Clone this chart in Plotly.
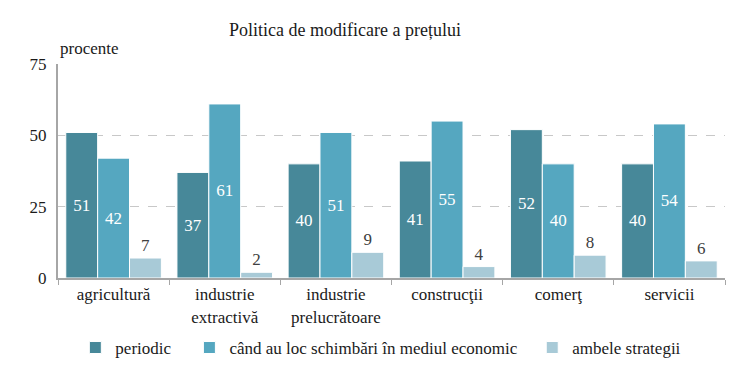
import plotly.graph_objects as go

categories = ["agricultură", "industrie<br>extractivă", "industrie<br>prelucrătoare", "construcţii", "comerţ", "servicii"]
periodic = [51, 37, 40, 41, 52, 40]
cand = [42, 61, 51, 55, 40, 54]
ambele = [7, 2, 9, 4, 8, 6]
series_names = ["periodic", "când au loc schimbări în mediul economic", "ambele strategii"]
y_ticks = [0, 25, 50, 75]

FONT = "Liberation Serif"
colors = ["#478899", "#55a7c0", "#a8cad7"]
TXT = "#1a1a1a"

fig = go.Figure()
fig.add_trace(go.Bar(x=categories, y=periodic, name=series_names[0], marker_color=colors[0],
                     marker_line=dict(color="white", width=1), showlegend=True,
                     text=periodic, textposition="inside", insidetextanchor="middle",
                     textfont=dict(color="white", size=17, family=FONT), legend="legend"))
fig.add_trace(go.Bar(x=categories, y=cand, name=series_names[1], marker_color=colors[1],
                     marker_line=dict(color="white", width=1), showlegend=True,
                     text=cand, textposition="inside", insidetextanchor="middle",
                     textfont=dict(color="white", size=17, family=FONT), legend="legend2"))
fig.add_trace(go.Bar(x=categories, y=ambele, name=series_names[2], marker_color=colors[2],
                     marker_line=dict(color="white", width=1), showlegend=True,
                     text=ambele, textposition="outside", cliponaxis=False,
                     textfont=dict(color="#404040", size=17, family=FONT), legend="legend3"))

# page has an 8px body margin: figure origin is at (8, 8)
leg_common = dict(orientation="h", yanchor="middle", y=-0.327, xanchor="left",
                  font=dict(family=FONT, size=17, color=TXT), bgcolor="rgba(0,0,0,0)",
                  itemwidth=30, visible=True)
fig.update_layout(
    width=739, height=366,
    margin=dict(l=50, r=22, t=56, b=96, autoexpand=False),
    showlegend=True,
    plot_bgcolor="white", paper_bgcolor="white",
    font=dict(family=FONT, size=17, color=TXT),
    barmode="group", bargap=0.14, bargroupgap=0,
    title=dict(text="Politica de modificare a prețului", x=0.456, xanchor="center", y=0.94, yanchor="middle",
               font=dict(family=FONT, size=18, color=TXT)),
    legend=dict(**leg_common, x=0.026),
    legend2=dict(**leg_common, x=0.197),
    legend3=dict(**leg_common, x=0.711),
    xaxis=dict(showline=True, linecolor="#a6a6a6", linewidth=2, ticks="outside", tickson="boundaries",
               ticklen=5, tickcolor="#a6a6a6", tickfont=dict(family=FONT, size=17, color=TXT)),
    yaxis=dict(range=[0, 75], tickvals=y_ticks, showline=True, linecolor="#a6a6a6", linewidth=2,
               showgrid=True, gridcolor="#c8c8c8", griddash="dash", gridwidth=1,
               ticks="", ticklabelstandoff=6, tickfont=dict(family=FONT, size=17, color=TXT), zeroline=False),
    annotations=[dict(text="procente", xref="paper", yref="paper", x=0, y=1.0, xanchor="left", yanchor="bottom",
                      yshift=4, showarrow=False, font=dict(family=FONT, size=17, color=TXT))],
)
fig.write_html("out.html")
